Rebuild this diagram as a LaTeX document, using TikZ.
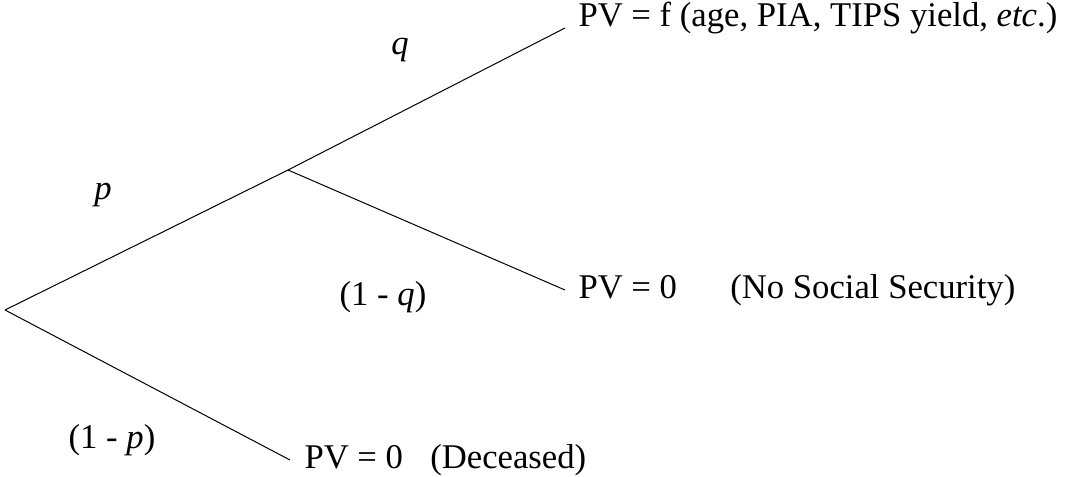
\documentclass[tikz,border=0pt]{standalone}
\usepackage{fontspec}
\setmainfont{Liberation Serif}
\usetikzlibrary{positioning}

\tikzset{every picture/.style={line width=0.75pt}}
\tikzset{txt/.style={inner sep=0pt, font=\fontsize{26}{31}\selectfont}}

\begin{document}
\begin{tikzpicture}[x=0.75pt,y=0.75pt,yscale=-1,xscale=1]
\useasboundingbox (0,0) rectangle (1066,476);

%Branch points
\coordinate (root) at (5,310);
\coordinate (fork) at (288,170);
\coordinate (endA) at (565,28);
\coordinate (endB) at (565,290);
\coordinate (endC) at (290,460);

%Shape: Lines
\draw (root) -- (fork) -- (endA);
\draw (fork) -- (endB);
\draw (root) -- (endC);

% Text Node
\node [txt, anchor=west] (pvA) at (578,18) {PV = f (age, PIA, TIPS yield, \textit{etc}.)};
% Text Node
\node [txt, anchor=west] (pvB) at (578,290) {PV = 0\hspace{40pt}(No Social Security)};
% Text Node
\node [txt, anchor=west] (pvC) at (304,460) {PV = 0\hspace{20.5pt}(Deceased)};
% Text Node
\node [txt] (q) at (400,50) {\textit{q}};
% Text Node
\node [txt] (p) at (103,195) {\textit{p}};
% Text Node
\node [txt] (notq) at (383,297) {(1 - \textit{q})};
% Text Node
\node [txt] (notp) at (112,440) {(1 - \textit{p})};

\end{tikzpicture}
\end{document}
